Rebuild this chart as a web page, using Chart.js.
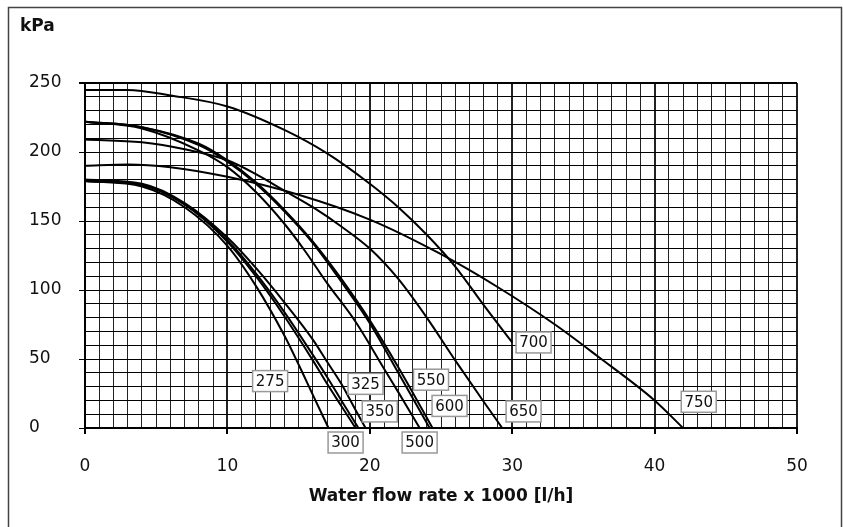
<!DOCTYPE html>
<html>
<head>
<meta charset="utf-8">
<script src="https://cdn.jsdelivr.net/npm/chart.js@4.4.1/dist/chart.umd.min.js"></script>
<style>
  html, body { margin: 0; padding: 0; background: #fff; }
  #wrap { width: 843px; height: 527px; }
</style>
</head>
<body>
<div id="wrap"><canvas id="pumpChart" width="843" height="527"></canvas></div>
<script>
// pump models (curve tags)
var models = ['275', '300', '325', '350', '500', '550', '600', '650', '700', '750'];

// head curves, [flow x1000 l/h, kPa]
var c275 = [[0,179],[4,175],[7,160],[10,132],[12,103],[14,67],[15,46],[16,24],[17.1,0]];
var c300 = [[0,179],[4,176],[7,162],[10,135],[12,110],[14,81],[16,49],[17,32],[18,16],[19,0]];
var c325 = [[0,179],[4,176],[7,162],[10,136],[12,112],[14,84],[16,53],[17,37],[18,20],[19.2,0]];
var c350 = [[0,180],[4,177],[7,163],[10,138],[12,116],[14,91],[16,64],[17,48],[18,32],[19,13],[19.7,0]];
var c500 = [[0,222],[4,217],[8,201],[10,189],[12,171],[14,148],[15.4,129],[17,105],[19,77],[21,43],[22,26],[23.5,0]];
var c550 = [[0,222],[4,218],[8,205],[10,193],[12,177],[14,157],[16,134],[18,106],[20,76],[22,40],[24.2,0]];
var c600 = [[0,222],[4,218],[8,206],[10,194],[12,178],[14,158],[16,135],[18,108],[20,78],[22,44],[24.4,0]];
var c650 = [[0,209],[4,207],[7,202],[10,194],[12,184],[14,172],[16,160],[18,146],[20,130],[22,108],[24,80],[26,49],[28,19],[29.3,0]];
var c700 = [[0,245],[3,245],[6,241],[10,233],[14,216],[17,199],[20,177],[22,160],[24,140],[26,117],[28,89],[30,62]];
var c750 = [[0,190],[3,191],[6,189],[10,182],[15,169],[20,151],[24.8,127],[29,102],[33,75],[36,52],[40,20],[42,0]];

// where each tag box sits, [flow, kPa]
var tagAt = [[13.0,34],[18.3,-10.5],[19.7,32],[20.7,12],[23.5,-10.5],[24.3,35],[25.6,16],[30.8,12],[31.5,62],[43.1,19]];

var xTicks = [0, 10, 20, 30, 40, 50];
var yTicks = [0, 50, 100, 150, 200, 250];

var curves = [c275, c300, c325, c350, c500, c550, c600, c650, c700, c750];

function toPts(arr) {
  return arr.map(function(p) { return {x: p[0], y: p[1]}; });
}

var datasets = curves.map(function(c, i) {
  return {
    label: models[i],
    data: toPts(c),
    showLine: true,
    borderColor: '#000',
    borderWidth: 2,
    pointRadius: 0,
    cubicInterpolationMode: 'monotone',
    fill: false
  };
});

var fontFam = '"DejaVu Sans", sans-serif';

// frame, kPa and curve tags
var extras = {
  id: 'extras',
  afterDatasetsDraw: function(chart) {
    var ctx = chart.ctx;
    var xs = chart.scales.x, ys = chart.scales.y;
    ctx.save();
    ctx.font = '15px ' + fontFam;
    ctx.textAlign = 'center';
    ctx.textBaseline = 'middle';
    tagAt.forEach(function(p, i) {
      var cx = xs.getPixelForValue(p[0]);
      var cy = ys.getPixelForValue(p[1]);
      var w = 35, h = 21;
      ctx.fillStyle = '#fff';
      ctx.fillRect(cx - w / 2, cy - h / 2, w, h);
      ctx.strokeStyle = '#999';
      ctx.lineWidth = 1.5;
      ctx.strokeRect(cx - w / 2, cy - h / 2, w, h);
      ctx.fillStyle = '#111';
      ctx.fillText(models[i], cx, cy + 1);
    });
    ctx.restore();
  },
  afterDraw: function(chart) {
    var ctx = chart.ctx;
    ctx.save();
    ctx.strokeStyle = '#444';
    ctx.lineWidth = 1.5;
    ctx.beginPath();
    ctx.moveTo(8.5, 530);
    ctx.lineTo(8.5, 7.5);
    ctx.lineTo(841.5, 7.5);
    ctx.lineTo(841.5, 530);
    ctx.stroke();
    ctx.fillStyle = '#111';
    ctx.font = 'bold 17px ' + fontFam;
    ctx.textAlign = 'left';
    ctx.textBaseline = 'middle';
    ctx.fillText('kPa', 20, 27);
    ctx.restore();
  }
};

new Chart(document.getElementById('pumpChart').getContext('2d'), {
  type: 'scatter',
  data: { datasets: datasets },
  plugins: [extras],
  options: {
    responsive: false,
    animation: false,
    layout: { padding: { left: 29, top: 83, right: 46, bottom: 0 } },
    plugins: {
      legend: { display: false },
      tooltip: { enabled: false }
    },
    scales: {
      x: {
        type: 'linear',
        min: 0,
        max: 50,
        afterFit: function(s) { s.height = 99; },
        afterBuildTicks: function(s) {
          var t = [];
          for (var v = 0; v <= 50; v++) t.push({value: v});
          s.ticks = t;
        },
        ticks: {
          autoSkip: false,
          maxRotation: 0,
          padding: 22,
          color: '#111',
          font: { family: fontFam, size: 17 },
          callback: function(v) { return xTicks.indexOf(v) >= 0 ? String(v) : ''; }
        },
        grid: {
          color: '#222',
          tickLength: 6,
          lineWidth: function(c) { return c.tick && c.tick.value % 10 === 0 ? 2 : 1; },
          tickColor: function(c) { return c.tick && c.tick.value % 10 === 0 ? '#000' : 'rgba(0,0,0,0)'; }
        },
        border: { color: '#000', width: 2 },
        title: {
          display: true,
          text: 'Water flow rate x 1000 [l/h]',
          color: '#111',
          font: { family: fontFam, size: 17, weight: 'bold' },
          padding: { top: 0, bottom: 20 }
        }
      },
      y: {
        type: 'linear',
        min: 0,
        max: 250,
        afterFit: function(s) { s.width = 56; },
        afterBuildTicks: function(s) {
          var t = [];
          for (var v = 0; v <= 250; v += 10) t.push({value: v});
          s.ticks = t;
        },
        ticks: {
          autoSkip: false,
          crossAlign: 'far',
          color: '#111',
          font: { family: fontFam, size: 17 },
          callback: function(v) { return yTicks.indexOf(v) >= 0 ? String(v) : ''; }
        },
        grid: {
          color: '#000',
          tickLength: 6,
          lineWidth: function(c) { return c.tick && (c.tick.value === 250) ? 2 : 1; },
          tickColor: function(c) { return c.tick && c.tick.value % 50 === 0 ? '#000' : 'rgba(0,0,0,0)'; }
        },
        border: { color: '#000', width: 2 }
      }
    }
  }
});
</script>
</body>
</html>
